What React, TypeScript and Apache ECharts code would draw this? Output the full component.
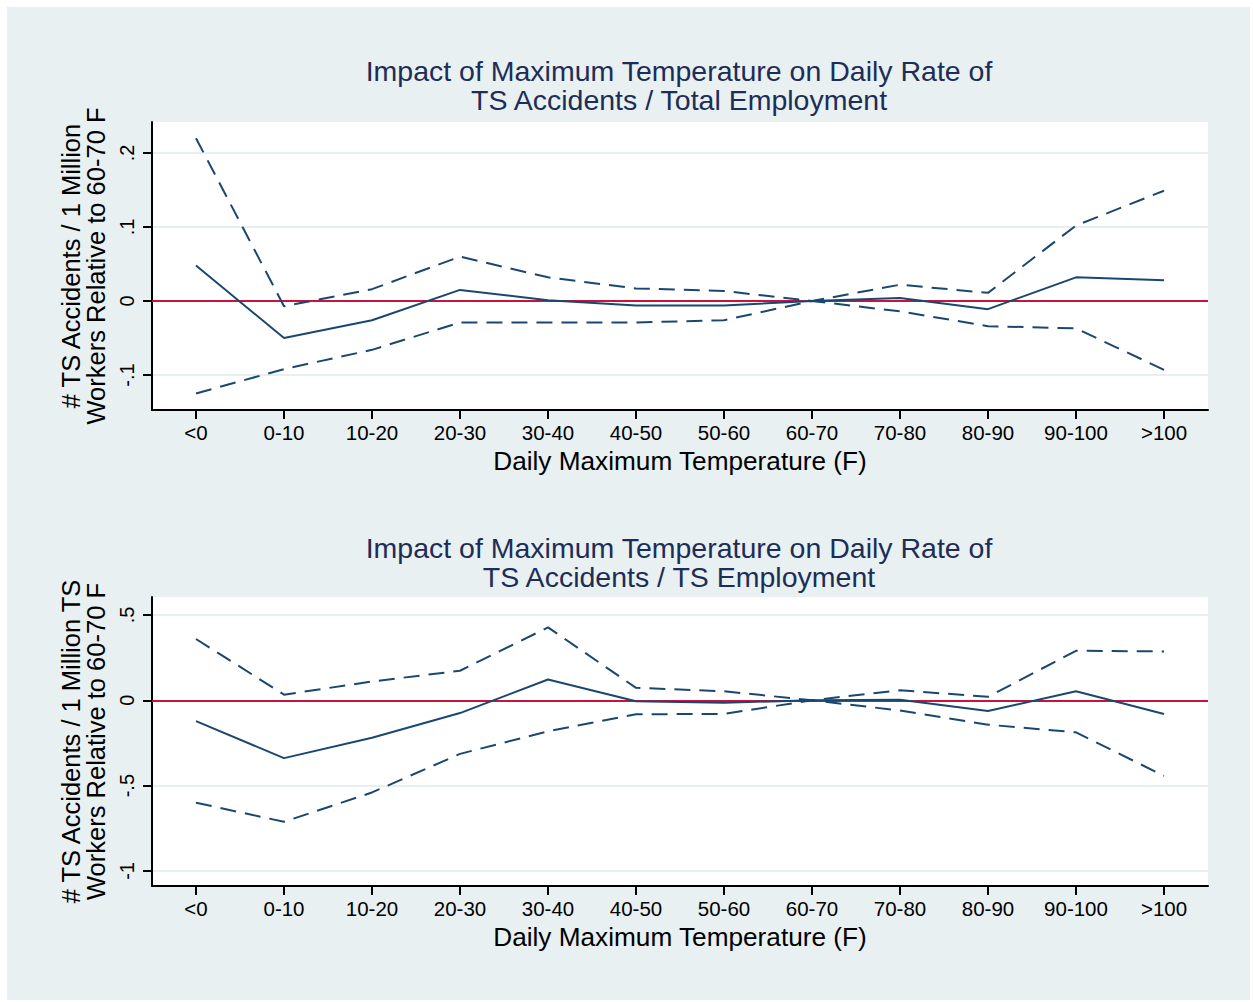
import React, { useEffect, useRef } from "react";
import * as echarts from "echarts";

const categories = ["<0", "0-10", "10-20", "20-30", "30-40", "40-50", "50-60", "60-70", "70-80", "80-90", "90-100", ">100"];

// Top panel: TS Accidents / Total Employment
const totalEst = [0.048, -0.05, -0.026, 0.015, 0.001, -0.006, -0.006, 0, 0.004, -0.011, 0.032, 0.028];
const totalUpper = [0.22, -0.007, 0.016, 0.06, 0.032, 0.017, 0.0135, 0, 0.022, 0.011, 0.102, 0.149];
const totalLower = [-0.125, -0.092, -0.066, -0.029, -0.029, -0.029, -0.026, 0, -0.014, -0.034, -0.037, -0.093];
const totalTicks = [-0.1, 0, 0.1, 0.2];

// Bottom panel: TS Accidents / TS Employment
const tsEst = [-0.122, -0.339, -0.22, -0.075, 0.122, -0.006, -0.014, 0, 0.003, -0.063, 0.053, -0.08];
const tsUpper = [0.359, 0.033, 0.11, 0.173, 0.427, 0.073, 0.053, 0, 0.059, 0.02, 0.29, 0.286];
const tsLower = [-0.6, -0.712, -0.54, -0.314, -0.182, -0.082, -0.08, 0, -0.06, -0.143, -0.188, -0.443];
const tsTicks = [-1, -0.5, 0, 0.5];

const title1 = "Impact of Maximum Temperature on Daily Rate of\nTS Accidents / Total Employment";
const title2 = "Impact of Maximum Temperature on Daily Rate of\nTS Accidents / TS Employment";
const yName1 = "# TS Accidents / 1 Million\nWorkers Relative to 60-70 F";
const yName2 = "# TS Accidents / 1 Million TS\nWorkers Relative to 60-70 F";
const xName = "Daily Maximum Temperature (F)";

const FONT = "Liberation Sans";
const NAVY = "#1a476f";
const RED = "#c8143c";
const GRIDC = "#e7eff2";

function fmt(v: number): string {
  if (v === 0) return "0";
  const s = String(Math.round(v * 100) / 100);
  return s.replace(/^0\./, ".").replace(/^-0\./, "-.");
}

export default function App() {
  const ref = useRef<HTMLDivElement>(null);
  useEffect(() => {
    if (!ref.current) return;
    const chart = echarts.init(ref.current, null, { renderer: "svg" });
    const mkX = (gridIndex: number) => ({
      type: "category",
      gridIndex,
      data: categories,
      boundaryGap: true,
      axisLine: { show: true, onZero: false, lineStyle: { color: "#000", width: 2 } },
      axisTick: { show: true, alignWithLabel: true, length: 9, lineStyle: { color: "#000", width: 2 } },
      axisLabel: { color: "#000", fontSize: 20.5, fontFamily: FONT, margin: 12, interval: 0 },
      splitLine: { show: false },
      name: xName,
      nameLocation: "middle",
      nameGap: 38,
      nameTextStyle: { color: "#000", fontSize: 26.2, fontFamily: FONT },
    });
    const mkY = (gridIndex: number, min: number, max: number, ticks: number[], name: string) => ({
      type: "value",
      gridIndex,
      min,
      max,
      axisLine: { show: true, onZero: false, lineStyle: { color: "#000", width: 2 } },
      axisTick: { show: true, length: 9, customValues: ticks, lineStyle: { color: "#000", width: 2 } },
      axisLabel: {
        color: "#000",
        fontSize: 20,
        fontFamily: FONT,
        rotate: 90,
        margin: 15,
        customValues: ticks,
        formatter: (v: number) => fmt(v),
      },
      splitLine: { show: true, lineStyle: { color: GRIDC, width: 2 } },
      name,
      nameLocation: "middle",
      nameGap: 43,
      nameTextStyle: { color: "#000", fontSize: 25.5, fontFamily: FONT, lineHeight: 25 },
    });
    const line = (data: number[], idx: number, dashed: boolean, zero: boolean) => ({
      type: "line",
      xAxisIndex: idx,
      yAxisIndex: idx,
      data,
      symbol: "none",
      lineStyle: { color: NAVY, width: 2, type: dashed ? [16, 9] : "solid" },
      z: 3,
      ...(zero
        ? {
            markLine: {
              silent: true,
              symbol: "none",
              label: { show: false },
              lineStyle: { color: RED, width: 2.2, type: "solid" },
              data: [{ yAxis: 0 }],
              z: 2,
            },
          }
        : {}),
    });
    const titleStyle = { color: "#1e2d55", fontSize: 28.5, fontWeight: "normal", fontFamily: FONT, lineHeight: 29 };
    chart.setOption({
      animation: false,
      backgroundColor: "#e8f0f2",
      title: [
        { text: title1, left: 672, top: 49, textAlign: "center", padding: 0, textStyle: titleStyle },
        { text: title2, left: 672, top: 526, textAlign: "center", padding: 0, textStyle: titleStyle },
      ],
      grid: [
        { left: 145, top: 115, width: 1056, height: 288, show: true, backgroundColor: "#fff", borderWidth: 0, containLabel: false },
        { left: 145, top: 590, width: 1056, height: 289, show: true, backgroundColor: "#fff", borderWidth: 0, containLabel: false },
      ],
      xAxis: [mkX(0), mkX(1)],
      yAxis: [mkY(0, -0.1473, 0.2419, totalTicks, yName1), mkY(1, -1.088, 0.605, tsTicks, yName2)],
      series: [
        line(totalUpper, 0, true, false),
        line(totalLower, 0, true, false),
        line(totalEst, 0, false, true),
        line(tsUpper, 1, true, false),
        line(tsLower, 1, true, false),
        line(tsEst, 1, false, true),
      ],
    });
    return () => chart.dispose();
  }, []);
  return (
    <div style={{ position: "absolute", left: 0, top: 0, width: 1253, height: 1002, background: "#fff" }}>
      <div ref={ref} style={{ position: "absolute", left: 7, top: 7, width: 1243, height: 993 }} />
    </div>
  );
}
